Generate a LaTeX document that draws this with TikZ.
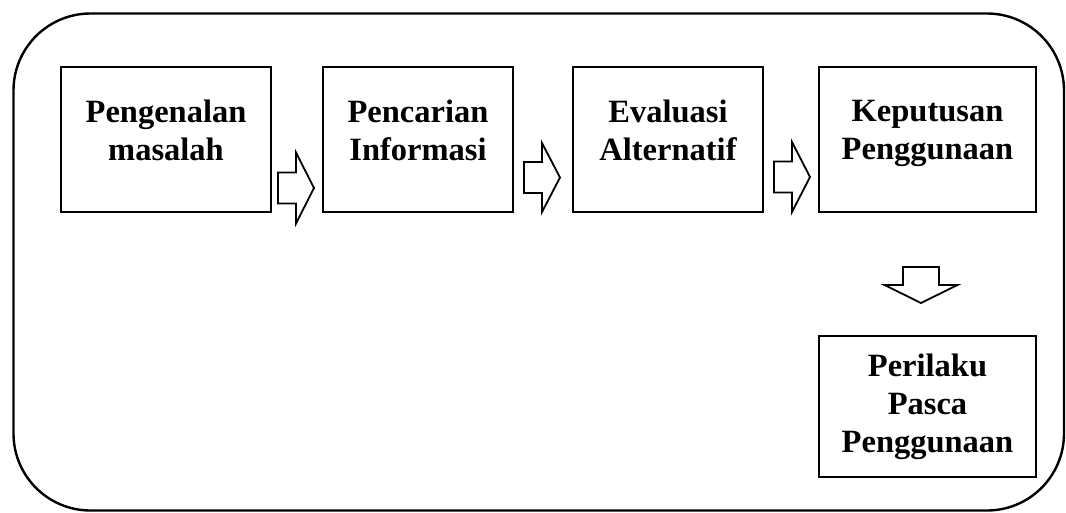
\documentclass[tikz,border=0pt]{standalone}
\usepackage{fontspec}
\setmainfont{Liberation Serif}
\usetikzlibrary{positioning}

\tikzset{
    box/.style={draw, line width=2.4pt, inner sep=0pt, outer sep=0pt, minimum height=145pt},
    lbl/.style={font=\bfseries\fontsize{32.5}{38}\selectfont, align=center, inner sep=0pt, anchor=north},
    arrowline/.style={draw, line width=1.8pt, line join=miter, fill=white},
    pics/blockarrow/.style args={#1/#2}{code={
        \path[arrowline] (0,-#1) -- (18,-#1) -- (18,-#2) -- (36,0) -- (18,#2) -- (18,#1) -- (0,#1) -- cycle;
    }}
}

\begin{document}
\begin{tikzpicture}[x=1pt, y=-1pt]
    \useasboundingbox (0,0) rectangle (1066,512);

    % frame
    \draw[line width=2.4pt, rounded corners=77pt] (13.5,13.5) rectangle (1064,510.5);

    \node[box, minimum width=210pt] (pengenalan) at (166,139.5) {};
    \node[box, minimum width=190pt, right=52pt of pengenalan] (pencarian) {};
    \node[box, minimum width=190pt, right=60pt of pencarian] (evaluasi) {};
    \node[box, minimum width=217pt, right=56pt of evaluasi] (keputusan) {};
    \node[box, minimum width=217pt, minimum height=141pt, below=124pt of keputusan] (perilaku) {};

    \node[lbl] (tpengenalan) at ([yshift=-33pt]pengenalan.north) {Pengenalan\\masalah};
    \node[lbl] (tpencarian) at ([yshift=-33pt]pencarian.north) {Pencarian\\Informasi};
    \node[lbl] (tevaluasi) at ([yshift=-33pt]evaluasi.north) {Evaluasi\\Alternatif};
    \node[lbl] (tkeputusan) at ([yshift=-33pt]keputusan.north) {Keputusan\\Penggunaan};
    \node[lbl] (tperilaku) at ([yshift=-18pt]perilaku.north) {Perilaku\\Pasca\\Penggunaan};

    % arrows
    \pic at (278,188) {blockarrow=15.5/35.5};
    \pic at (524,177.5) {blockarrow=15.5/34.5};
    \pic at (774,177) {blockarrow=15.5/35};
    \pic[rotate=-90] at (921,267) {blockarrow=18/36.5};

\end{tikzpicture}
\end{document}
